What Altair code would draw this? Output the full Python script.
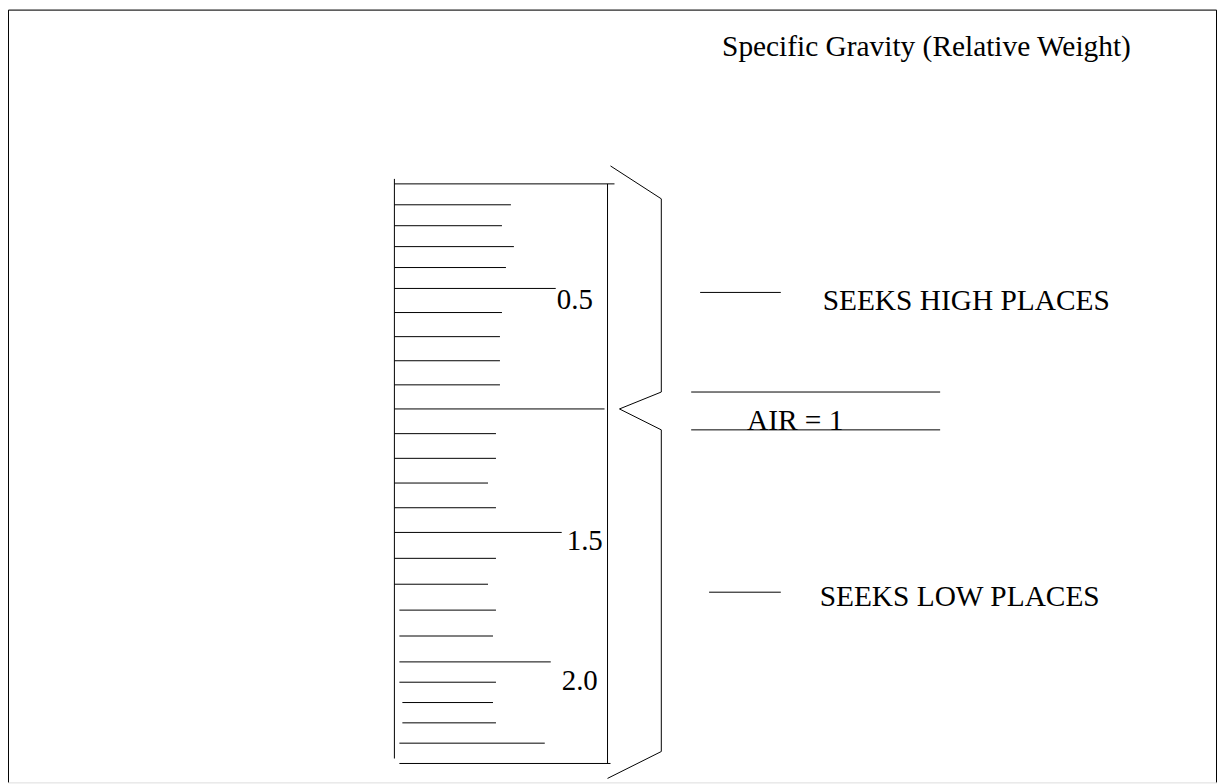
import altair as alt
import pandas as pd

# Ruler: specific gravity tick values, with the start / end of each drawn tick (page px)
gravity = [0.0, 0.1, 0.2, 0.3, 0.4, 0.5, 0.6, 0.7, 0.8, 0.9, 1.0,
           1.1, 1.2, 1.3, 1.4, 1.5, 1.6, 1.7, 1.8, 1.9, 2.0,
           2.1, 2.2, 2.3, 2.4, 2.5]
tick_start = [396, 396, 396, 396, 396, 396, 396, 396, 396, 396, 396,
              396, 396, 396, 396, 396, 396, 396, 401, 401, 401,
              401, 404, 404, 401, 401]
tick_end = [617, 513, 504, 516, 508, 558, 504, 502, 502, 502, 607,
            498, 498, 490, 498, 564, 498, 490, 498, 495, 553,
            498, 495, 498, 547, 613]

# Gravity anchor values and where they sit in the plot (for the ruler's scale)
anchor_values = [0.0, 0.5, 1.0, 1.5, 2.0, 2.5]
anchor_pixels = [175, 280, 401, 525, 655, 757]

# Ruler labels
scale_labels = ["0.5", "1.5", "2.0"]
scale_label_x = [559, 569, 564]
scale_label_y = [309, 551, 691]

# Straight segments of the diagram (page px)
seg_x0 = [396, 610, 694, 694, 703, 712, 8.5, 8.5, 1221.5]
seg_x1 = [396, 610, 944, 944, 784, 784, 1221.5, 8.5, 1221.5]
seg_y0 = [178, 183, 392, 430, 292, 593, 8.5, 8.5, 8.5]
seg_y1 = [760, 765, 392, 430, 292, 593, 8.5, 784, 784]

# Brace vertices
brace_x = [613, 664, 664, 622, 664, 664, 610]
brace_y = [165, 198, 392, 409, 430, 753, 780]

# Texts
texts = ["Specific Gravity (Relative Weight)", "SEEKS HIGH PLACES", "AIR = 1", "SEEKS LOW PLACES"]
text_x = [725, 826, 750, 823]
text_y = [55, 310, 430, 607]

W, H = 1214, 776
FONT = "Liberation Serif"

xs = alt.Scale(domain=[8, 8 + W], nice=False, zero=False)
ys = alt.Scale(domain=[8, 8 + H], nice=False, zero=False, reverse=True)
gs = alt.Scale(domain=anchor_values, range=anchor_pixels, nice=False, zero=False)

ticks_df = pd.DataFrame({"g": gravity, "x0": tick_start, "x1": tick_end})
seg_df = pd.DataFrame({"x0": seg_x0, "x1": seg_x1, "y0": seg_y0, "y1": seg_y1})
brace_df = pd.DataFrame({"x": brace_x, "y": brace_y, "o": list(range(len(brace_x)))})
text_df = pd.DataFrame({"t": texts, "x": text_x, "y": text_y})
lab_df = pd.DataFrame({"t": scale_labels, "x": scale_label_x, "y": scale_label_y})

ticks = alt.Chart(ticks_df).mark_rule(color="black", strokeWidth=1).encode(
    x=alt.X("x0:Q", scale=xs, axis=None),
    x2="x1:Q",
    y=alt.Y("g:Q", scale=gs, axis=None),
)

segs = alt.Chart(seg_df).mark_rule(color="black", strokeWidth=1).encode(
    x=alt.X("x0:Q", scale=xs, axis=None),
    x2="x1:Q",
    y=alt.Y("y0:Q", scale=ys, axis=None),
    y2="y1:Q",
)

brace = alt.Chart(brace_df).mark_line(color="black", strokeWidth=1).encode(
    x=alt.X("x:Q", scale=xs, axis=None),
    y=alt.Y("y:Q", scale=ys, axis=None),
    order="o:Q",
)

txt = alt.Chart(text_df).mark_text(
    align="left", baseline="alphabetic", font=FONT, fontSize=29.5, color="black"
).encode(
    x=alt.X("x:Q", scale=xs, axis=None),
    y=alt.Y("y:Q", scale=ys, axis=None),
    text="t:N",
)

labs = alt.Chart(lab_df).mark_text(
    align="left", baseline="alphabetic", font=FONT, fontSize=29, color="black"
).encode(
    x=alt.X("x:Q", scale=xs, axis=None),
    y=alt.Y("y:Q", scale=ys, axis=None),
    text="t:N",
)

chart = alt.layer(ticks, segs, brace, txt, labs).resolve_scale(y="independent").properties(
    width=W, height=H, padding=0, autosize=alt.AutoSizeParams(type="none")
).configure_view(stroke="transparent", strokeWidth=0).configure(background="white")

chart.save("out.html", embed_options={"renderer": "svg", "actions": False})
